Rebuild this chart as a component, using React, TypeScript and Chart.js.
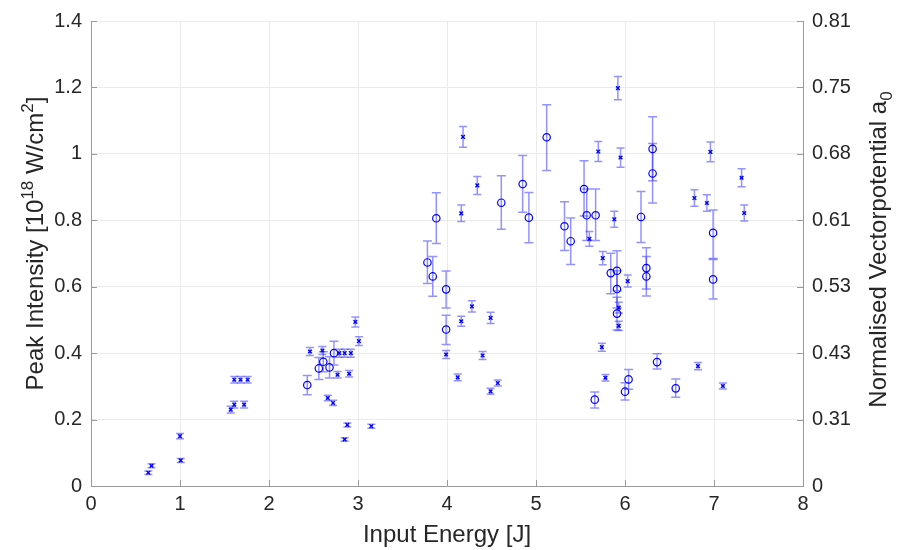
import React, { useEffect, useRef } from "react";
import { Chart, registerables } from "chart.js";

Chart.register(...registerables);

// ---- Data ----
// Circle series: x = input energy [J], y = peak intensity, with lower / upper error limits
const circleX = [2.43, 2.56, 2.61, 2.68, 2.73, 3.78, 3.84, 3.88, 3.99, 3.99, 4.61, 4.85, 4.92, 5.12, 5.32, 5.39, 5.54, 5.57, 5.67, 5.84, 5.91, 5.91, 5.91, 6.18, 6.24, 6.24, 6.31, 6.31, 6.99, 6.99, 5.66, 6.0, 6.04, 6.36, 6.57];
const circleY = [0.304, 0.354, 0.374, 0.357, 0.4, 0.673, 0.631, 0.806, 0.592, 0.471, 0.853, 0.909, 0.808, 1.05, 0.782, 0.737, 0.894, 0.815, 0.815, 0.641, 0.648, 0.593, 0.519, 0.81, 0.656, 0.631, 1.015, 0.941, 0.762, 0.622, 0.26, 0.284, 0.321, 0.373, 0.294];
const circleLow = [0.275, 0.321, 0.344, 0.325, 0.364, 0.61, 0.571, 0.73, 0.536, 0.426, 0.773, 0.824, 0.732, 0.95, 0.709, 0.667, 0.813, 0.739, 0.739, 0.579, 0.588, 0.536, 0.47, 0.733, 0.593, 0.572, 0.919, 0.852, 0.685, 0.563, 0.235, 0.259, 0.291, 0.352, 0.267];
const circleHigh = [0.333, 0.387, 0.404, 0.389, 0.436, 0.738, 0.691, 0.883, 0.647, 0.514, 0.934, 0.995, 0.884, 1.148, 0.856, 0.807, 0.979, 0.894, 0.894, 0.701, 0.708, 0.648, 0.568, 0.887, 0.717, 0.691, 1.112, 1.031, 0.831, 0.682, 0.283, 0.311, 0.351, 0.398, 0.322];

// Cross series: x, y and symmetric error
const crossX = [0.644, 0.68, 1.0, 1.008, 1.57, 1.61, 1.72, 1.61, 1.68, 1.76, 2.46, 2.6, 2.77, 2.9, 2.79, 2.85, 2.92, 2.66, 2.72, 2.97, 3.01, 2.88, 2.85, 3.15, 3.99, 4.12, 4.16, 4.16, 4.18, 4.28, 4.34, 4.4, 4.49, 4.49, 4.57, 5.6, 5.7, 5.75, 5.74, 5.78, 5.92, 5.95, 5.88, 5.93, 5.93, 6.03, 6.78, 6.92, 6.96, 7.31, 7.34, 6.82, 7.1];
const crossY = [0.04, 0.061, 0.15, 0.077, 0.23, 0.245, 0.245, 0.32, 0.32, 0.32, 0.405, 0.408, 0.335, 0.338, 0.4, 0.4, 0.4, 0.265, 0.25, 0.494, 0.436, 0.184, 0.14, 0.18, 0.396, 0.327, 0.496, 0.821, 1.051, 0.541, 0.905, 0.393, 0.506, 0.285, 0.31, 0.744, 1.007, 0.686, 0.418, 0.326, 1.198, 0.989, 0.803, 0.537, 0.482, 0.617, 0.867, 0.852, 1.006, 0.928, 0.822, 0.361, 0.301];
const crossErr = [0.005, 0.006, 0.008, 0.006, 0.01, 0.01, 0.01, 0.01, 0.01, 0.01, 0.012, 0.012, 0.01, 0.01, 0.012, 0.012, 0.012, 0.008, 0.008, 0.015, 0.013, 0.006, 0.005, 0.006, 0.012, 0.01, 0.015, 0.025, 0.031, 0.017, 0.027, 0.012, 0.017, 0.009, 0.009, 0.022, 0.03, 0.02, 0.012, 0.01, 0.035, 0.029, 0.024, 0.016, 0.014, 0.018, 0.025, 0.025, 0.03, 0.027, 0.024, 0.011, 0.009];

// Axis labels
const xAxisTitle = "Input Energy [J]";
const leftTickLabels = ["0", "0.2", "0.4", "0.6", "0.8", "1", "1.2", "1.4"];
const rightTickLabels = ["0", "0.31", "0.43", "0.53", "0.61", "0.68", "0.75", "0.81"];

const FONT = "'Liberation Sans', Arial, Helvetica, sans-serif";
const TEXT = "#262626";
const AXIS = "#9a9a9a";
const GRID = "#ebebeb";
const BLUE = "#0000ff";

type Seg = { text: string; size: number; dy: number };

function drawRotatedRich(ctx: CanvasRenderingContext2D, segs: Seg[], cx: number, cy: number) {
  ctx.save();
  ctx.translate(cx, cy);
  ctx.rotate(-Math.PI / 2);
  ctx.fillStyle = TEXT;
  ctx.textBaseline = "alphabetic";
  ctx.textAlign = "left";
  let total = 0;
  for (const s of segs) {
    ctx.font = `${s.size}px ${FONT}`;
    total += ctx.measureText(s.text).width;
  }
  let x = -total / 2;
  for (const s of segs) {
    ctx.font = `${s.size}px ${FONT}`;
    ctx.fillText(s.text, x, s.dy);
    x += ctx.measureText(s.text).width;
  }
  ctx.restore();
}

const errorBarPlugin = {
  id: "errorBars",
  beforeDatasetsDraw(chart: any) {
    const ctx = chart.ctx as CanvasRenderingContext2D;
    const xs = chart.scales.x;
    const ys = chart.scales.y;
    ctx.save();
    ctx.strokeStyle = "rgba(40,40,255,0.5)";
    ctx.lineWidth = 1.5;
    const bar = (x: number, lo: number, hi: number, half: number) => {
      const px = xs.getPixelForValue(x);
      const p1 = ys.getPixelForValue(lo);
      const p2 = ys.getPixelForValue(hi);
      ctx.beginPath();
      ctx.moveTo(px, p1);
      ctx.lineTo(px, p2);
      ctx.moveTo(px - half, p1);
      ctx.lineTo(px + half, p1);
      ctx.moveTo(px - half, p2);
      ctx.lineTo(px + half, p2);
      ctx.stroke();
    };
    circleX.forEach((x, i) => bar(x, circleLow[i], circleHigh[i], 4.5));
    crossX.forEach((x, i) => bar(x, crossY[i] - crossErr[i], crossY[i] + crossErr[i], 4));
    ctx.restore();
  },
};

const decorPlugin = {
  id: "decor",
  afterDraw(chart: any) {
    const ctx = chart.ctx as CanvasRenderingContext2D;
    const { left, right, bottom } = chart.chartArea;
    const xs = chart.scales.x;
    const ys = chart.scales.y;
    ctx.save();
    ctx.strokeStyle = AXIS;
    ctx.lineWidth = 1;
    ctx.beginPath();
    ys.ticks.forEach((t: any) => {
      const py = Math.round(ys.getPixelForValue(t.value)) + 0.5;
      ctx.moveTo(left, py);
      ctx.lineTo(left + 6, py);
      ctx.moveTo(right, py);
      ctx.lineTo(right - 6, py);
    });
    xs.ticks.forEach((t: any) => {
      const px = Math.round(xs.getPixelForValue(t.value)) + 0.5;
      ctx.moveTo(px, bottom);
      ctx.lineTo(px, bottom - 6);
    });
    ctx.stroke();
    ctx.restore();

    const cy = (chart.chartArea.top + chart.chartArea.bottom) / 2 - 10;
    drawRotatedRich(
      ctx,
      [
        { text: "Peak Intensity [10", size: 24, dy: 0 },
        { text: "18", size: 17, dy: -10 },
        { text: " W/cm", size: 24, dy: 0 },
        { text: "2", size: 17, dy: -10 },
        { text: "]", size: 24, dy: 0 },
      ],
      43,
      cy
    );
    drawRotatedRich(
      ctx,
      [
        { text: "Normalised Vectorpotential a", size: 24, dy: 0 },
        { text: "0", size: 17, dy: 6 },
      ],
      886,
      cy + 6
    );
  },
};

export default function App() {
  const ref = useRef<HTMLCanvasElement | null>(null);
  useEffect(() => {
    if (!ref.current) return;
    const chart = new Chart(ref.current, {
      type: "scatter",
      data: {
        datasets: [
          {
            label: "circles",
            data: circleX.map((x, i) => ({ x, y: circleY[i] })),
            pointStyle: "circle",
            pointRadius: 3.7,
            pointHoverRadius: 3.7,
            borderColor: BLUE,
            backgroundColor: "rgba(0,0,0,0)",
            borderWidth: 1.2,
          },
          {
            label: "crosses",
            data: crossX.map((x, i) => ({ x, y: crossY[i] })),
            pointStyle: "crossRot",
            pointRadius: 2.6,
            pointHoverRadius: 2.6,
            borderColor: BLUE,
            backgroundColor: BLUE,
            borderWidth: 1.4,
          },
        ],
      },
      options: {
        animation: false,
        responsive: false,
        maintainAspectRatio: false,
        layout: { padding: { top: 20, left: 0, right: 0, bottom: 0 } },
        plugins: { legend: { display: false }, tooltip: { enabled: false } },
        scales: {
          x: {
            type: "linear",
            min: 0,
            max: 8,
            ticks: { stepSize: 1, color: TEXT, font: { family: FONT, size: 20 }, padding: 6 },
            grid: { color: GRID, drawTicks: false },
            border: { color: AXIS, width: 1 },
            title: { display: true, text: xAxisTitle, color: TEXT, font: { family: FONT, size: 24 }, padding: { top: 0, bottom: 0 } },
            afterFit: (s: any) => {
              s.height = 64;
            },
          },
          y: {
            type: "linear",
            position: "left",
            min: 0,
            max: 1.4,
            ticks: {
              stepSize: 0.2,
              color: TEXT,
              font: { family: FONT, size: 20 },
              padding: 9,
              callback: (_v: any, i: number) => leftTickLabels[i] ?? "",
            },
            grid: { color: GRID, drawTicks: false },
            border: { color: AXIS, width: 1 },
            afterFit: (s: any) => {
              s.width = 91;
            },
          },
          y2: {
            type: "linear",
            position: "right",
            display: true,
            min: 0,
            max: 1.4,
            ticks: {
              stepSize: 0.2,
              color: TEXT,
              font: { family: FONT, size: 20 },
              padding: 9,
              callback: (_v: any, i: number) => rightTickLabels[i] ?? "",
            },
            grid: { display: false, drawTicks: false },
            border: { color: AXIS, width: 1 },
            afterFit: (s: any) => {
              s.width = 101;
            },
          },
        },
      },
      plugins: [errorBarPlugin, decorPlugin],
    } as any);
    return () => chart.destroy();
  }, []);
  return (
    <div style={{ position: "absolute", left: 0, top: 0, width: 904, height: 550, background: "#fff" }}>
      <canvas ref={ref} width={904} height={550} style={{ width: 904, height: 550, display: "block" }} />
    </div>
  );
}
